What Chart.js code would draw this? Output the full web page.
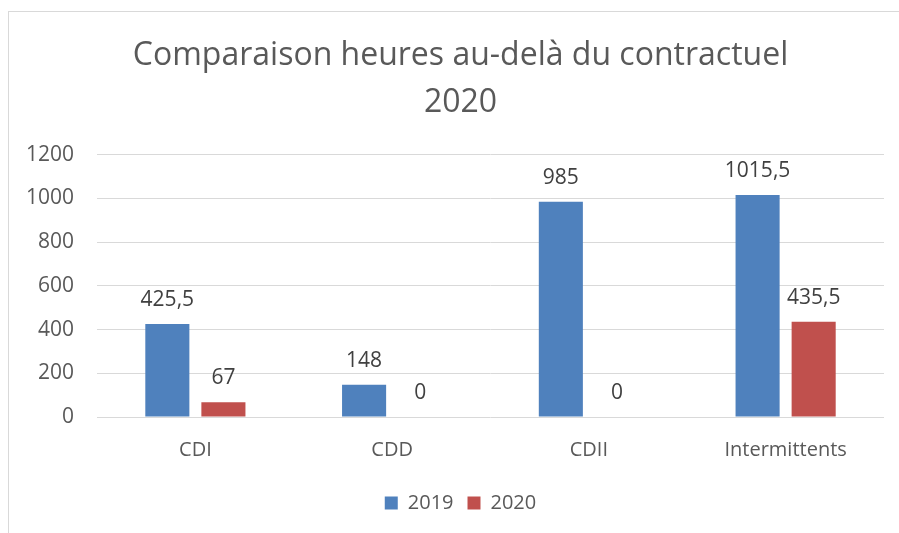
<!DOCTYPE html>
<html>
<head>
<meta charset="utf-8">
<script src="https://cdn.jsdelivr.net/npm/chart.js@4.4.1/dist/chart.umd.min.js"></script>
<style>
  html, body { margin: 0; padding: 0; background: #ffffff; overflow: hidden; }
  #frame {
    position: absolute; left: 8px; top: 11px;
    width: 903px; height: 530px;
    border: 1px solid #d9d9d9;
  }
  #bar_chart { display: block; }
</style>
</head>
<body>
<div id="frame"><canvas id="bar_chart" width="903" height="521"></canvas></div>
<script>
//
// daten aus dem bild
//
var categories = ['CDI', 'CDD', 'CDII', 'Intermittents'];
var values_2019 = [425.5, 148, 985, 1015.5];
var values_2020 = [67, 0, 0, 435.5];
var series_names = ['2019', '2020'];
var y_ticks = [0, 200, 400, 600, 800, 1000, 1200];
var title_lines = ['Comparaison heures au-delà du contractuel', '2020'];

var font_family = "'Open Sans', 'DejaVu Sans', sans-serif";

//
// zahlen mit komma wie im original
//
function formatValue(v) {
  return String(v).replace('.', ',');
}

//
// beschriftung über den balken
//
var value_labels = {
  id : 'value_labels',
  afterLayout : function(chart) {
    // y-achse ist schmal gesetzt, damit die labels nicht abgeschnitten werden
    chart.scales.y.left = 0;
  },
  afterDatasetsDraw : function(chart) {
    var ctx = chart.ctx;
    ctx.save();
    ctx.font = '21px ' + font_family;
    ctx.fillStyle = '#404040';
    ctx.textAlign = 'center';
    ctx.textBaseline = 'middle';
    chart.data.datasets.forEach(function(ds, di) {
      var meta = chart.getDatasetMeta(di);
      meta.data.forEach(function(el, i) {
        ctx.fillText(formatValue(ds.data[i]), el.x, el.y - 24);
      });
    });
    ctx.restore();
  }
};

var bar_config = {
  type : 'bar',
  data : {
    labels : categories,
    datasets : [ {
      label : series_names[0],
      data : values_2019,
      backgroundColor : '#4f81bd',
      categoryPercentage : 0.57,
      barPercentage : 0.786
    }, {
      label : series_names[1],
      data : values_2020,
      backgroundColor : '#c0504d',
      categoryPercentage : 0.57,
      barPercentage : 0.786
    } ]
  },
  options : {
    responsive : false,
    animation : false,
    // links und rechts gleich, damit titel und legende mittig sitzen
    layout : {padding : {left : 28, right : 28, top : 0, bottom : 10}},
    plugins : {
      title : {
        display : true,
        text : title_lines,
        color : '#595959',
        font : {family : font_family, size : 32, weight : 'normal', lineHeight : 1.45},
        padding : {top : 21, bottom : 29}
      },
      legend : {
        position : 'bottom',
        labels : {
          color : '#595959',
          font : {family : font_family, size : 20},
          boxWidth : 13,
          boxHeight : 13,
          padding : 14
        }
      },
      tooltip : {enabled : false}
    },
    scales : {
      x : {
        grid : {display : false},
        border : {display : false},
        ticks : {
          color : '#595959',
          font : {family : font_family, size : 20},
          padding : 13
        },
        afterFit : function(scale) { scale.height = 62; }
      },
      y : {
        min : 0,
        max : 1200,
        afterBuildTicks : function(scale) {
          scale.ticks = y_ticks.map(function(v) { return {value : v}; });
        },
        grid : {color : '#d9d9d9', lineWidth : 1, drawTicks : false},
        border : {display : false},
        ticks : {
          color : '#595959',
          font : {family : font_family, size : 21},
          padding : 23,
          callback : function(v) { return String(v); }
        },
        afterFit : function(scale) { scale.width = 60; }
      }
    }
  },
  plugins : [ value_labels ]
};

var bar_chart = new Chart(document.getElementById('bar_chart').getContext('2d'), bar_config);
</script>
</body>
</html>
